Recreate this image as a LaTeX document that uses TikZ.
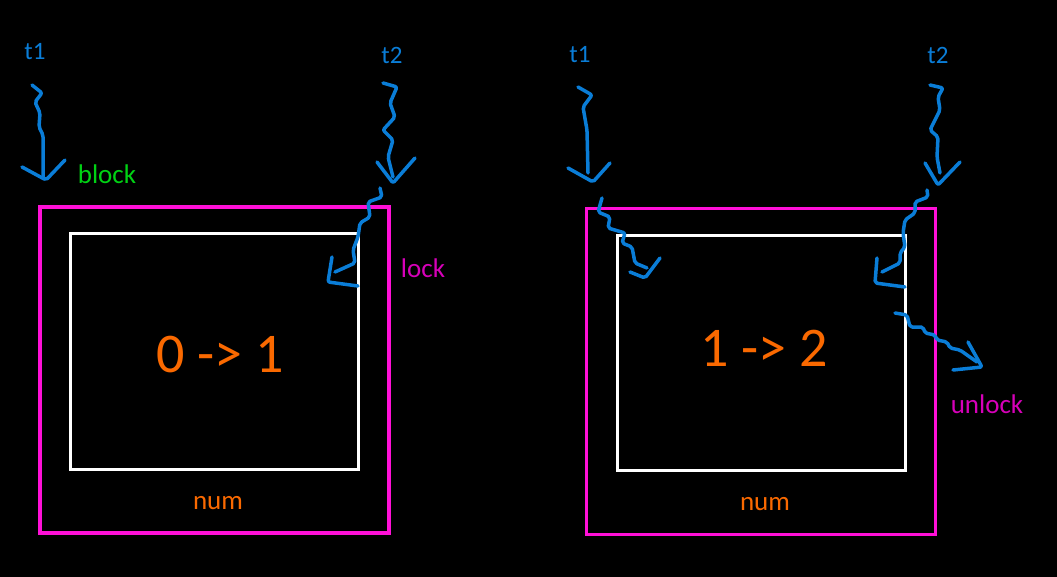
\documentclass[tikz,border=0pt]{standalone}
\usepackage{fontspec}
\setmainfont{Carlito}

\definecolor{penblue}{RGB}{10,125,215}
\definecolor{boxpink}{RGB}{255,16,215}
\definecolor{lockpink}{RGB}{215,0,185}
\definecolor{numorange}{RGB}{250,105,0}
\definecolor{blockgreen}{RGB}{0,210,20}

\begin{document}
\begin{tikzpicture}[x=1pt,y=-1pt]
  \tikzstyle{outer} = [draw=boxpink, line width=3.5pt, minimum width=349pt, minimum height=326pt]
  \tikzstyle{inner} = [draw=white, line width=3pt, minimum width=288pt, minimum height=235pt]
  \tikzstyle{thread} = [text=penblue, font=\fontsize{25}{25}\selectfont]
  \tikzstyle{tag} = [font=\fontsize{27}{27}\selectfont]
  \tikzstyle{value} = [text=numorange, font=\fontsize{56}{56}\selectfont]
  \tikzstyle{squiggle} = [draw=penblue, line width=3.5pt, line cap=round, line join=round, rounded corners=2pt]

  \fill[black] (0,0) rectangle (1057,577);

  % left: t1 blocked, t2 holds the lock
  \node[outer] (out1) at (214.5,370) {};
  \node[inner] (in1) at (214,351.5) {};
  \node[value] (val1) at (220,355) {0 -> 1};
  \node[tag, text=numorange] (num1) at (218,503) {num};
  \node[thread] (t1a) at (35,52) {t1};
  \node[thread] (t2a) at (392,55) {t2};
  \node[tag, text=blockgreen] (block) at (107,174) {block};
  \node[tag, text=lockpink] (lock) at (423,268) {lock};

  % right: t1 gets in, t2 leaves
  \node[outer] (out2) at (761,371.5) {};
  \node[inner] (in2) at (761,353) {};
  \node[value] (val2) at (764,348) {1 -> 2};
  \node[tag, text=numorange] (num2) at (765,504) {num};
  \node[thread] (t1b) at (580,55) {t1};
  \node[thread] (t2b) at (938,55) {t2};
  \node[tag, text=lockpink] (unlock) at (987,404) {unlock};

  % left squiggles
  \draw[squiggle] (32,85) -- (42,93) -- (35,102) -- (40,113) -- (39,127) -- (43,135) -- (43,177);
  \draw[squiggle] (22,167) -- (46,180) -- (65,160);
  \draw[squiggle] (383,83) -- (397,87) -- (390,103) -- (395,117) -- (383,130) -- (393,140) -- (388,157) -- (393,177);
  \draw[squiggle] (377,162) -- (393,183) -- (415,158);
  \draw[squiggle] (380,188) -- (382,197) -- (368,202) -- (370,217) -- (360,223) -- (358,237) -- (353,250) -- (355,263) -- (335,272);
  \draw[squiggle] (332,257) -- (328,282) -- (358,286);

  % right squiggles
  \draw[squiggle] (578,87) -- (592,95) -- (583,107) -- (587,130) -- (588,173);
  \draw[squiggle] (568,168) -- (593,182) -- (610,163);
  \draw[squiggle] (602,198) -- (598,212) -- (610,217) -- (608,228) -- (625,233) -- (622,243) -- (632,247) -- (635,263) -- (647,268);
  \draw[squiggle] (630,272) -- (645,278) -- (660,258);
  \draw[squiggle] (930,85) -- (943,88) -- (938,97) -- (940,110) -- (930,130) -- (938,137) -- (937,157) -- (940,173);
  \draw[squiggle] (925,163) -- (938,185) -- (960,162);
  \draw[squiggle] (927,190) -- (928,197) -- (915,202) -- (915,213) -- (905,220) -- (903,233) -- (905,247) -- (900,253) -- (900,263) -- (882,272);
  \draw[squiggle] (877,258) -- (875,283) -- (905,287);
  \draw[squiggle] (895,313) -- (907,315) -- (910,327) -- (923,327) -- (925,333) -- (935,335) -- (937,340) -- (947,342) -- (950,348) -- (960,350) -- (967,355) -- (977,362);
  \draw[squiggle] (968,342) -- (982,367) -- (953,370);
\end{tikzpicture}
\end{document}
